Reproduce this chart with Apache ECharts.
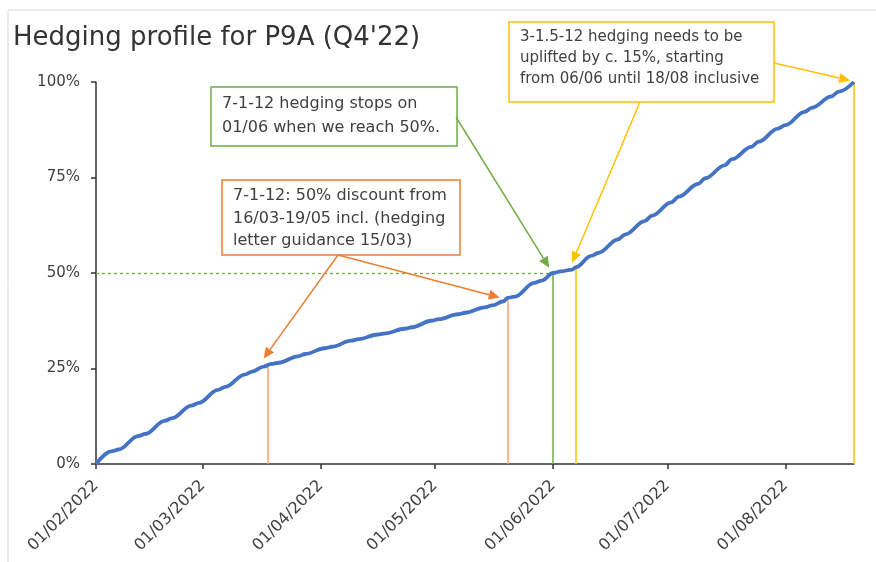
<!DOCTYPE html>
<html>
<head>
<meta charset="utf-8">
<script src="https://cdn.jsdelivr.net/npm/echarts@6/dist/echarts.min.js"></script>
<style>
  html, body { margin: 0; padding: 0; background: #fff; }
  #chart { width: 876px; height: 562px; }
</style>
</head>
<body>
<div id="chart"></div>
<script>
// cumulative hedging (weekly ramps, flat weekends)
const dates = [
  '2022-02-01', '2022-02-05', '2022-02-07', '2022-02-12', '2022-02-14', '2022-02-19', '2022-02-21',
  '2022-02-26', '2022-02-28', '2022-03-05', '2022-03-07', '2022-03-12', '2022-03-14', '2022-03-17',
  '2022-03-19', '2022-03-21', '2022-03-26', '2022-03-28', '2022-04-02', '2022-04-04', '2022-04-09',
  '2022-04-11', '2022-04-16', '2022-04-18', '2022-04-23', '2022-04-25', '2022-04-30', '2022-05-02',
  '2022-05-07', '2022-05-09', '2022-05-14', '2022-05-16', '2022-05-19', '2022-05-20', '2022-05-22',
  '2022-05-27', '2022-05-29', '2022-06-01', '2022-06-03', '2022-06-06', '2022-06-07', '2022-06-11',
  '2022-06-13', '2022-06-18', '2022-06-20', '2022-06-25', '2022-06-27', '2022-07-02', '2022-07-04',
  '2022-07-09', '2022-07-11', '2022-07-16', '2022-07-18', '2022-07-23', '2022-07-25', '2022-07-30',
  '2022-08-01', '2022-08-06', '2022-08-08', '2022-08-13', '2022-08-15', '2022-08-19'
];
const hedged = [
  0, 3.3, 3.8, 7.3, 7.9, 11.3, 12.0,
  15.3, 16.0, 19.4, 20.2, 23.4, 24.2, 25.5,
  26.2, 26.5, 28.2, 28.8, 30.3, 30.7, 32.3,
  32.7, 33.9, 34.2, 35.4, 35.8, 37.5, 37.9,
  39.2, 39.6, 41.0, 41.5, 42.6, 43.5, 43.8,
  47.4, 48.0, 50.0, 50.4, 50.9, 51.5, 54.5,
  55.3, 58.8, 60.1, 63.6, 65.0, 68.5, 70.0,
  73.3, 74.8, 78.2, 79.8, 83.0, 84.4, 87.8,
  88.7, 92.2, 93.3, 96.2, 97.5, 100
];
const monthTicks = ['2022-02-01', '2022-03-01', '2022-04-01', '2022-05-01', '2022-06-01', '2022-07-01', '2022-08-01'];
const yTicks = [0, 25, 50, 75, 100];
const xStart = '2022-02-01';
const xEnd = '2022-08-19';

// drop lines [date, value reached]
const dropOrange = [['2022-03-18', 25.7], ['2022-05-20', 43.5]];
const dropGreen = [['2022-06-01', 50.2]];
const dropYellow = [['2022-06-07', 51.2], ['2022-08-19', 100]];

// arrow tips on the curve [date, value]
const tipGreen = ['2022-05-31', 51.4];
const tipOrange = [['2022-03-17', 27.6], ['2022-05-18', 43.6]];
const tipYellow = [['2022-06-06', 52.7], ['2022-08-18', 100.4]];

const noteGreen = '7-1-12 hedging stops on\n01/06 when we reach 50%.';
const noteOrange = '7-1-12: 50% discount from\n16/03-19/05 incl. (hedging\nletter guidance 15/03)';
const noteYellow = '3-1.5-12 hedging needs to be\nuplifted by c. 15%, starting\nfrom 06/06 until 18/08 inclusive';

const FONT = '"DejaVu Sans", sans-serif';
const BLUE = '#4472C4', ORANGE = '#ED7D31', ORANGE_L = '#F4A470', GREEN = '#70AD47', YELLOW = '#FFC000';
const DAY = 86400000;

// day number counted from xStart
function ms(s) {
  const p = s.split('-').map(Number);
  return Date.UTC(p[0], p[1] - 1, p[2]);
}
function d(s) { return Math.round((ms(s) - ms(xStart)) / DAY); }
function pad(n) { return n < 10 ? '0' + n : '' + n; }

function drops(list, color) {
  return list.map(([t, v]) => [
    { coord: [d(t), 0], lineStyle: { color: color } },
    { coord: [d(t), v] }
  ]);
}

const chart = echarts.init(document.getElementById('chart'), null, { renderer: 'canvas' });

const option = {
  animation: false,
  backgroundColor: '#fff',
  title: {
    text: 'Hedging profile for P9A (Q4\'22)',
    left: 13,
    top: 25,
    padding: 0,
    textStyle: { fontFamily: FONT, fontSize: 26, fontWeight: 'normal', color: '#333' }
  },
  grid: { left: 96, right: 22, top: 82, bottom: 98, containLabel: false, outerBoundsMode: 'none' },
  xAxis: {
    type: 'value',
    min: d(xStart),
    max: d(xEnd),
    splitLine: { show: false },
    axisLine: { lineStyle: { color: '#333', width: 1.5 } },
    axisTick: { show: true, length: 5, lineStyle: { color: '#333', width: 1.5 },
      customValues: monthTicks.map(d) },
    axisLabel: {
      customValues: monthTicks.map(d),
      rotate: 45,
      margin: 19,
      hideOverlap: false,
      fontFamily: FONT,
      fontSize: 16,
      color: '#404040',
      formatter: v => {
        const t = new Date(ms(xStart) + v * DAY);
        return pad(t.getUTCDate()) + '/' + pad(t.getUTCMonth() + 1) + '/' + t.getUTCFullYear();
      }
    }
  },
  yAxis: {
    type: 'value',
    min: yTicks[0],
    max: yTicks[yTicks.length - 1],
    interval: 25,
    splitLine: { show: false },
    axisLine: { show: true, lineStyle: { color: '#333', width: 1.5 } },
    axisTick: { show: true, length: 5, lineStyle: { color: '#333', width: 1.5 } },
    axisLabel: { formatter: '{value}%', margin: 16, fontFamily: FONT, fontSize: 15, color: '#404040' }
  },
  series: [
    {
      type: 'line',
      data: dates.map((t, i) => [d(t), hedged[i]]),
      showSymbol: false,
      symbol: 'none',
      smooth: 0.35,
      smoothMonotone: 'x',
      clip: false,
      z: 5,
      lineStyle: { color: BLUE, width: 3.8 },
      markLine: {
        silent: true,
        symbol: ['none', 'none'],
        label: { show: false },
        lineStyle: { width: 1.5, type: 'solid' },
        emphasis: { disabled: true },
        data: [
          [{ coord: [d(xStart), 50], lineStyle: { color: GREEN, type: [3, 3], width: 1.3 } },
           { coord: [d(dropGreen[0][0]), 50] }],
          ...drops(dropOrange, ORANGE_L),
          ...drops(dropGreen, GREEN),
          ...drops(dropYellow, YELLOW)
        ]
      }
    }
  ]
};
chart.setOption(option);

// annotation boxes and their arrows
function box(x, y, w, h, color, text, lh, size) {
  return [
    { type: 'rect', shape: { x: x, y: y, width: w, height: h },
      style: { fill: '#fff', stroke: color, lineWidth: 1.5 }, z: 10 },
    { type: 'text', x: x + 11, y: y + 5, z: 11,
      style: { text: text, font: size + 'px ' + FONT, fill: '#404040', lineHeight: lh, verticalAlign: 'top' } }
  ];
}
function arrow(x1, y1, tip, color) {
  const p = chart.convertToPixel({ gridIndex: 0 }, [d(tip[0]), tip[1]]);
  const tx = p[0], ty = p[1];
  const dx = tx - x1, dy = ty - y1, len = Math.sqrt(dx * dx + dy * dy);
  const ux = dx / len, uy = dy / len, L = 11, W = 10;
  const bx = tx - ux * L, by = ty - uy * L;
  return [
    { type: 'line', z: 12, shape: { x1: x1, y1: y1, x2: bx, y2: by },
      style: { stroke: color, lineWidth: 1.5 } },
    { type: 'polygon', z: 12,
      shape: { points: [[tx, ty], [bx - uy * W / 2, by + ux * W / 2], [bx + uy * W / 2, by - ux * W / 2]] },
      style: { fill: color } }
  ];
}

const graphic = [
  { type: 'rect', shape: { x: 8, y: 10, width: 900, height: 600 },
    style: { fill: 'none', stroke: '#d9d9d9', lineWidth: 1 }, z: 0, silent: true },
  ...box(211, 87, 246, 59, GREEN, noteGreen, 24, 16),
  ...box(222, 180, 238, 75, ORANGE, noteOrange, 22.5, 16),
  ...box(509, 22, 265, 80, YELLOW, noteYellow, 21, 15),
  ...arrow(456, 117, tipGreen, GREEN),
  ...arrow(338, 255, tipOrange[0], ORANGE),
  ...arrow(338, 255, tipOrange[1], ORANGE),
  ...arrow(640, 102, tipYellow[0], YELLOW),
  ...arrow(774, 63, tipYellow[1], YELLOW)
];
chart.setOption({ graphic: graphic });
</script>
</body>
</html>
